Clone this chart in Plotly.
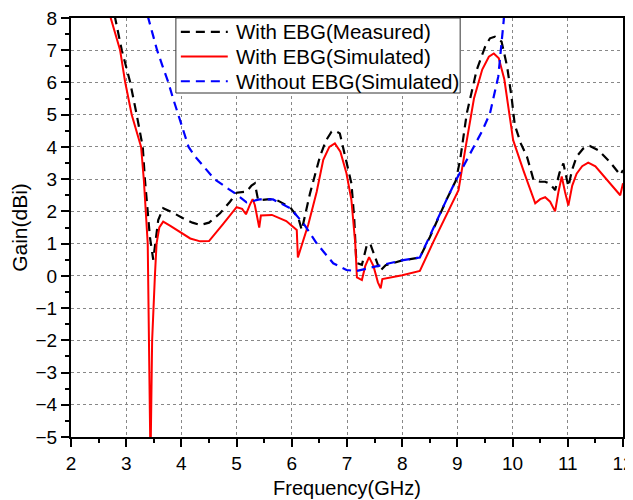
import plotly.graph_objects as go

# With EBG (Measured)
meas_f = [2.70, 2.80, 2.92, 3.07, 3.19, 3.30, 3.34, 3.37, 3.43, 3.49, 3.53, 3.58, 3.67, 3.80, 4.03, 4.20, 4.34, 4.50, 4.70, 4.88, 5.00, 5.18, 5.27, 5.33, 5.39, 5.45, 5.60, 5.73, 5.97, 6.12, 6.18, 6.33, 6.51, 6.62, 6.72, 6.78, 6.87, 6.95, 7.08, 7.13, 7.17, 7.27, 7.36, 7.42, 7.50, 7.60, 7.70, 8.00, 8.32, 8.50, 8.80, 8.97, 9.05, 9.17, 9.35, 9.50, 9.59, 9.68, 9.80, 9.90, 9.98, 10.04, 10.15, 10.26, 10.38, 10.50, 10.59, 10.68, 10.77, 10.85, 10.92, 11.01, 11.08, 11.16, 11.28, 11.40, 11.55, 11.76, 11.95, 12.00]
meas_g = [9.0, 8.0, 7.0, 6.02, 5.0, 4.0, 2.97, 2.3, 1.2, 0.5, 1.0, 1.73, 2.1, 2.0, 1.79, 1.65, 1.58, 1.65, 1.94, 2.3, 2.58, 2.61, 2.8, 2.87, 2.35, 2.35, 2.38, 2.35, 2.13, 1.79, 1.42, 2.56, 3.7, 4.2, 4.47, 4.5, 4.42, 3.8, 2.87, 1.8, 0.4, 0.34, 0.96, 1.0, 0.6, 0.15, 0.33, 0.48, 0.57, 1.2, 2.35, 2.95, 3.6, 5.04, 6.39, 7.1, 7.37, 7.42, 7.27, 6.5, 5.56, 4.68, 4.1, 3.7, 2.97, 2.92, 2.92, 2.85, 2.66, 3.2, 3.49, 2.77, 3.3, 3.7, 3.95, 4.03, 3.9, 3.54, 3.13, 3.28]

# With EBG (Simulated)
sim_f = [2.60, 2.72, 2.89, 2.98, 3.10, 3.27, 3.32, 3.36, 3.39, 3.44, 3.47, 3.52, 3.55, 3.60, 3.67, 3.80, 4.00, 4.16, 4.34, 4.50, 4.75, 5.00, 5.10, 5.17, 5.24, 5.29, 5.33, 5.38, 5.41, 5.44, 5.64, 5.90, 6.09, 6.11, 6.30, 6.45, 6.57, 6.68, 6.78, 6.88, 6.99, 7.08, 7.11, 7.15, 7.18, 7.23, 7.27, 7.33, 7.40, 7.48, 7.56, 7.61, 7.64, 8.00, 8.32, 8.56, 9.02, 9.15, 9.30, 9.45, 9.57, 9.66, 9.75, 9.85, 9.93, 10.01, 10.20, 10.41, 10.50, 10.59, 10.68, 10.77, 10.83, 10.89, 10.95, 11.01, 11.08, 11.16, 11.26, 11.37, 11.50, 11.65, 11.80, 11.95, 12.00]
sim_g = [9.5, 8.0, 7.0, 6.02, 5.0, 4.0, 2.97, 2.0, 1.0, -5.8, -2.0, 0.0, 1.0, 1.5, 1.68, 1.55, 1.32, 1.16, 1.07, 1.08, 1.6, 2.13, 2.08, 1.91, 2.2, 2.38, 2.2, 1.8, 1.5, 1.87, 1.89, 1.7, 1.42, 0.57, 1.6, 2.6, 3.6, 4.0, 4.11, 3.85, 3.18, 2.35, 1.73, 1.0, -0.05, -0.1, -0.13, 0.3, 0.58, 0.3, -0.2, -0.39, -0.1, 0.02, 0.15, 1.04, 2.66, 4.0, 5.5, 6.4, 6.8, 6.9, 6.75, 6.1, 5.2, 4.21, 3.25, 2.25, 2.38, 2.44, 2.3, 2.0, 2.6, 3.08, 2.6, 2.18, 2.8, 3.17, 3.4, 3.51, 3.4, 3.1, 2.8, 2.5, 2.87]

# Without EBG (Simulated)
wo_f = [3.35, 3.40, 3.48, 3.56, 3.66, 3.76, 3.85, 3.94, 4.03, 4.13, 4.25, 4.37, 4.60, 4.85, 4.94, 5.18, 5.42, 5.66, 5.97, 6.21, 6.45, 6.75, 6.99, 7.17, 7.48, 7.99, 8.32, 8.50, 8.80, 8.96, 9.23, 9.45, 9.59, 9.74, 9.84, 9.86]
wo_g = [9.0, 8.0, 7.5, 7.0, 6.5, 6.02, 5.5, 5.0, 4.5, 4.0, 3.7, 3.45, 3.0, 2.7, 2.6, 2.28, 2.37, 2.37, 2.10, 1.63, 1.01, 0.39, 0.18, 0.15, 0.28, 0.48, 0.57, 1.25, 2.35, 2.92, 3.8, 4.5, 5.04, 6.18, 7.94, 9.0]

names = ["With EBG(Measured)", "With EBG(Simulated)", "Without EBG(Simulated)"]
colors = ["black", "#ff0000", "#0000ff"]
dashes = ["9px,6px", "solid", "9px,6px"]

x_ticks = list(range(2, 13))
y_ticks = list(range(-5, 9))

FONT = "Liberation Sans, Arial"

fig = go.Figure()
for fx, gy, nm, c, d in zip([meas_f, sim_f, wo_f], [meas_g, sim_g, wo_g], names, colors, dashes):
    fig.add_trace(go.Scatter(x=fx, y=gy, mode="lines", name=nm, showlegend=False,
                             line=dict(color=c, width=2.2 if d != "solid" else 2, dash=d)))

# Legend box (drawn in paper coordinates)
lx0, lx1, ly0, ly1 = 0.190, 0.705, 0.821, 1.0
row_y = [0.967, 0.908, 0.849]
fig.add_shape(type="rect", xref="paper", yref="paper", x0=lx0, x1=lx1, y0=ly0, y1=ly1,
              line=dict(color="#333333", width=1), fillcolor="white", layer="above")
for nm, c, d, yy in zip(names, colors, dashes, row_y):
    fig.add_shape(type="line", xref="paper", yref="paper", x0=0.199, x1=0.284, y0=yy, y1=yy,
                  line=dict(color=c, width=2.2 if d != "solid" else 2, dash=d), layer="above")
    fig.add_annotation(xref="paper", yref="paper", x=0.296, y=yy, text=nm, showarrow=False,
                       xanchor="left", yanchor="middle",
                       font=dict(family=FONT, size=20.5, color="black"))

axis_common = dict(
    showline=True, linecolor="black", linewidth=2, mirror=True,
    ticks="outside", ticklen=8, tickwidth=2, tickcolor="black",
    showgrid=True, gridcolor="#888888", griddash="dot", gridwidth=1,
    zeroline=False, automargin=False, ticklabeloverflow="allow",
    tickfont=dict(family=FONT, size=19, color="black"),
)

fig.update_xaxes(range=[2, 12], tickvals=x_ticks,
                 minor=dict(dtick=0.5, ticklen=4, tickwidth=2, tickcolor="black", showgrid=False, ticks="outside"),
                 title=dict(text="Frequency(GHz)", font=dict(family=FONT, size=20, color="black"), standoff=8),
                 **axis_common)
fig.update_yaxes(range=[-5, 8], tickvals=y_ticks,
                 minor=dict(dtick=0.5, ticklen=4, tickwidth=2, tickcolor="black", showgrid=False, ticks="outside"),
                 title=dict(text="Gain(dBi)", font=dict(family=FONT, size=21, color="black"), standoff=8),
                 **axis_common)

fig.update_layout(
    width=625, height=492,
    margin=dict(l=63, r=10, t=10, b=63),
    paper_bgcolor="white", plot_bgcolor="white",
    showlegend=False,
)

fig.write_html("out.html")
